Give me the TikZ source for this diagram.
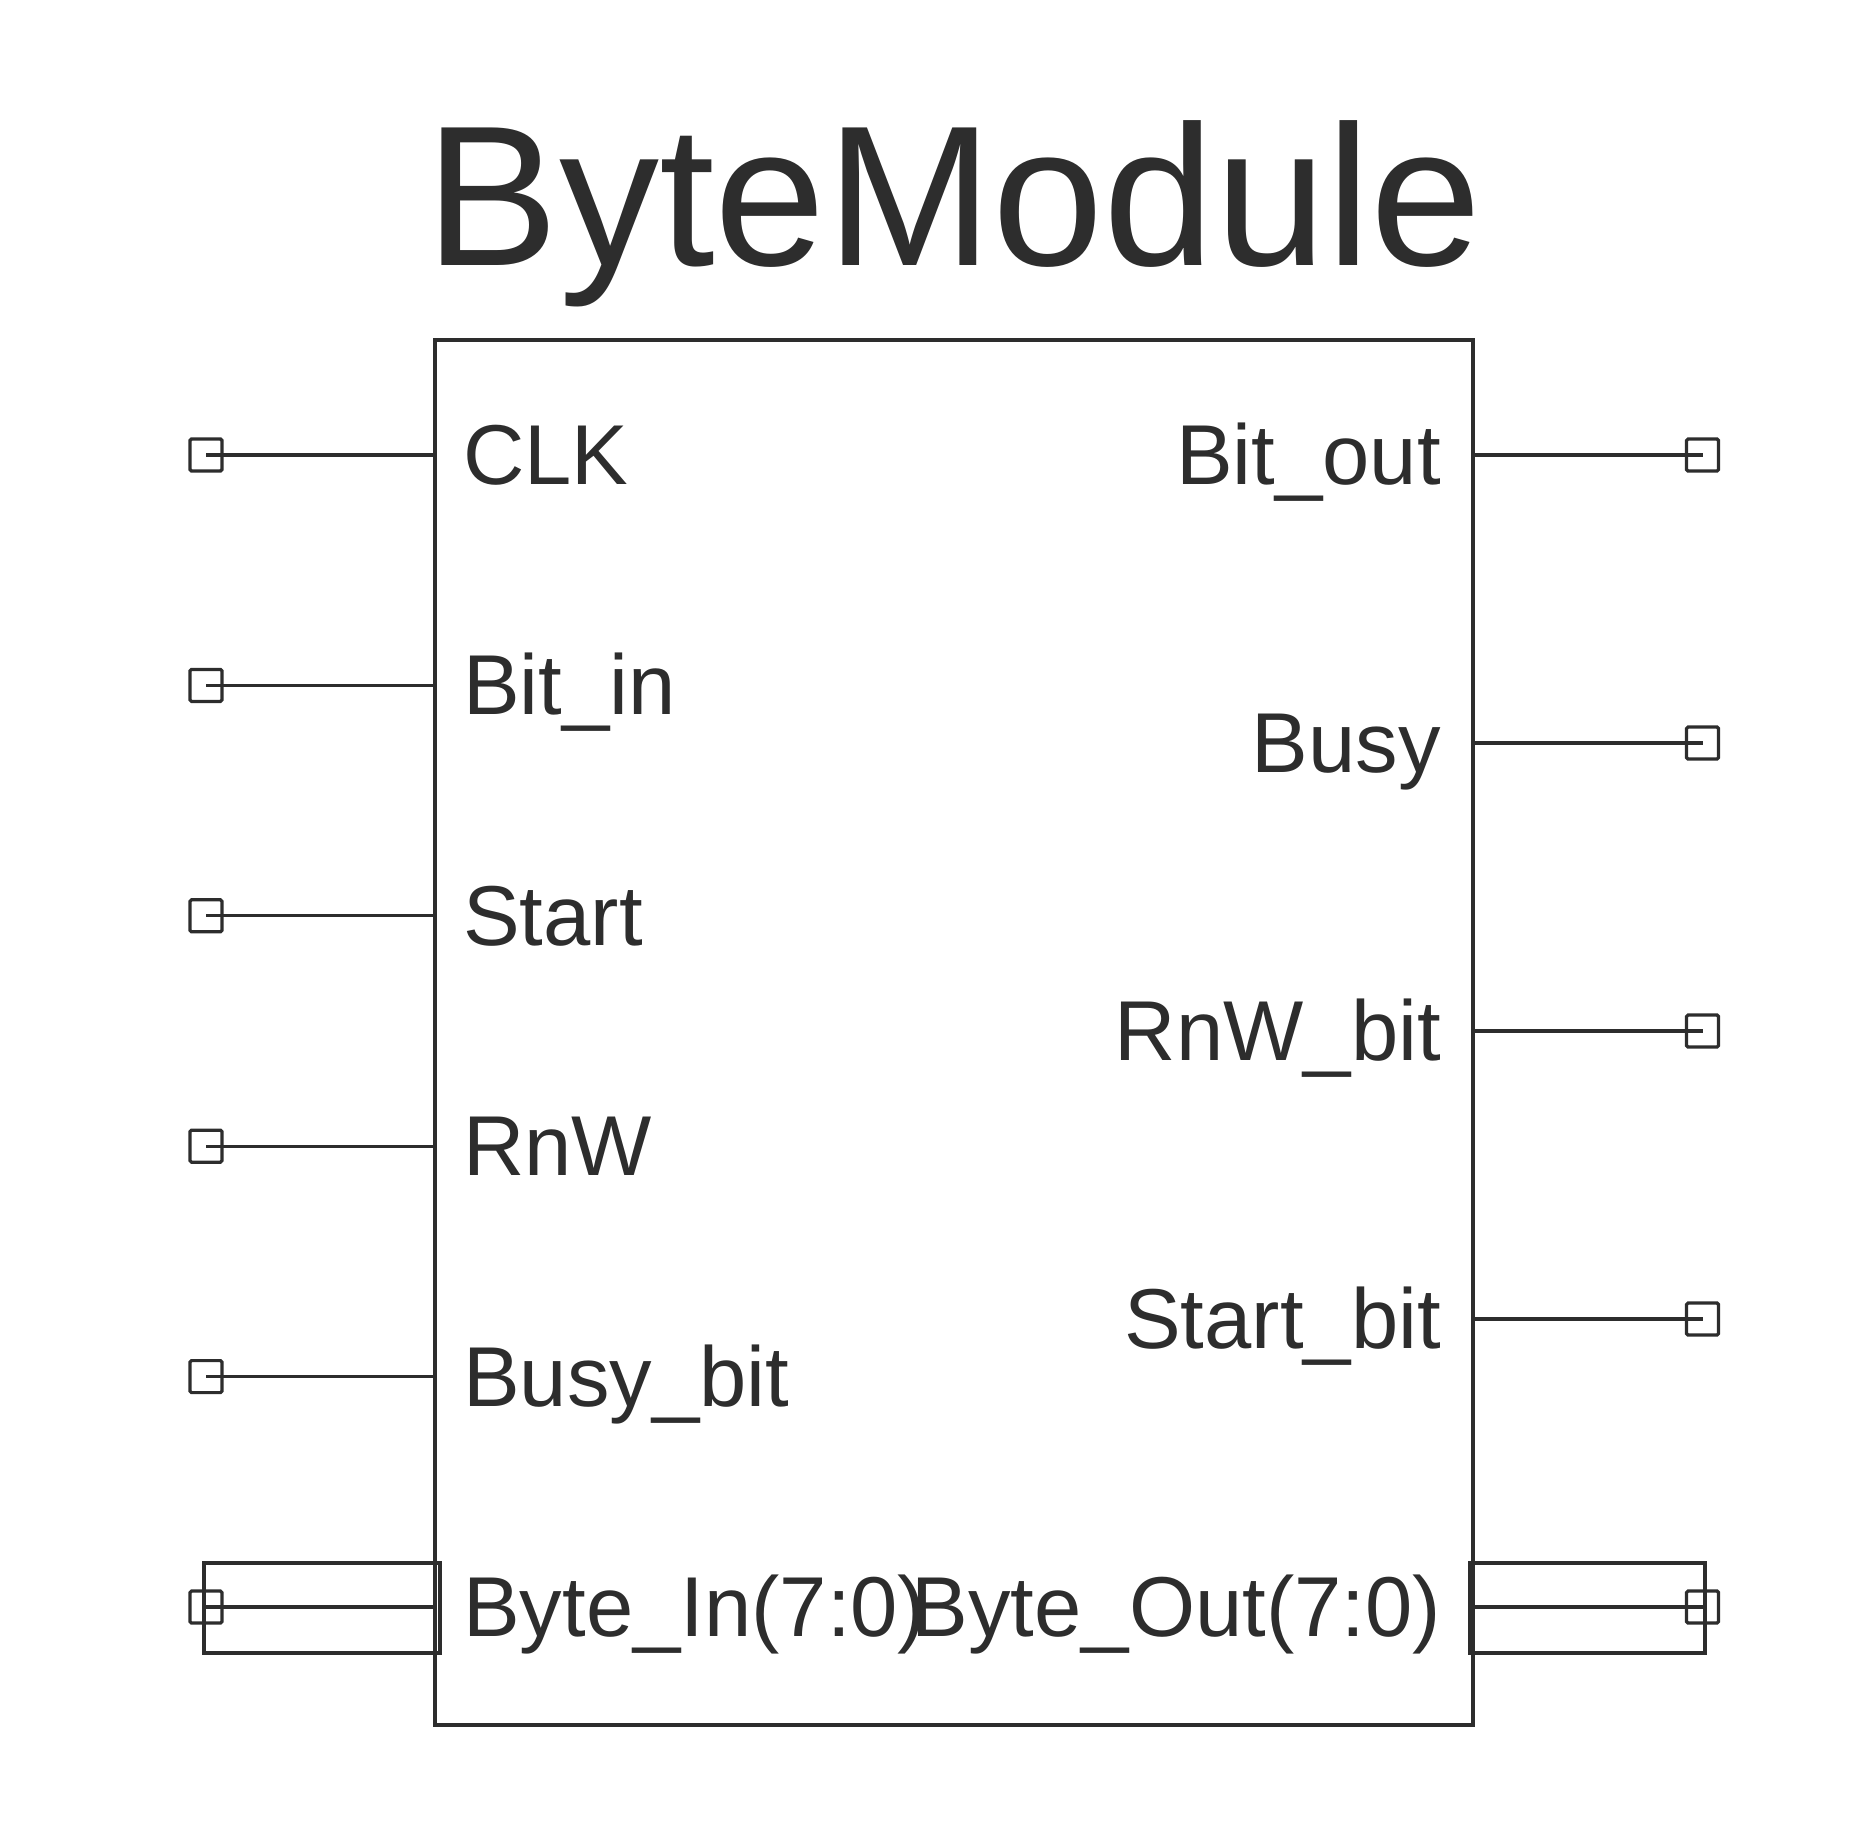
\documentclass[tikz,border=0pt]{standalone}
\usepackage{fontspec}
\setmainfont{Liberation Sans}
\definecolor{ink}{HTML}{2D2D2D}
\tikzset{
  pin/.style={draw=ink, line width=3.2pt, rectangle, rounded corners=1.5pt, minimum size=32pt, inner sep=0pt},
  wire/.style={draw=ink, line width=3.2pt},
  busbox/.style={draw=ink, line width=3.2pt, rectangle, inner sep=0pt},
  lbl/.style={text=ink, inner sep=0pt, font=\fontsize{85pt}{100pt}\selectfont},
  lblL/.style={lbl, anchor=base west},
  lblR/.style={lbl, anchor=base east},
}
\begin{document}
\begin{tikzpicture}[x=1pt,y=-1pt]
\useasboundingbox (0,0) rectangle (1872,1824);
% title
\node[text=ink, inner sep=0pt, anchor=base, font=\fontsize{200pt}{232pt}\selectfont] (title) at (954,265) {ByteModule};
% main box
\node[draw=ink, line width=3.2pt, rectangle, inner sep=0pt, minimum width=1038pt, minimum height=1385pt] (box) at (954,1032.5) {};
% bus rectangles
\node[busbox, minimum width=236pt, minimum height=90pt] (busL) at (322,1608) {};
\node[busbox, minimum width=235pt, minimum height=90pt] (busR) at (1587.5,1608) {};
% left pins
\foreach \n/\y/\t in {1/455/CLK, 2/685.4/Bit\_in, 3/915.8/Start, 4/1146.2/RnW, 5/1376.6/Busy\_bit, 6/1607/Byte\_In(7:0)} {
  \node[pin] (pL\n) at (206,\y) {};
  \draw[wire] (pL\n.center) -- (pL\n.center -| box.west);
  \node[lblL] (tL\n) at (463,\y+29.5) {\t};
}
% right pins
\foreach \n/\y/\t in {1/455/Bit\_out, 2/743/Busy, 3/1031/RnW\_bit, 4/1319/Start\_bit, 5/1607/Byte\_Out(7:0)} {
  \node[pin] (pR\n) at (1702.5,\y) {};
  \draw[wire] (pR\n.center -| box.east) -- (pR\n.center);
  \node[lblR] (tR\n) at (1441,\y+29) {\t};
}
\end{tikzpicture}
\end{document}
